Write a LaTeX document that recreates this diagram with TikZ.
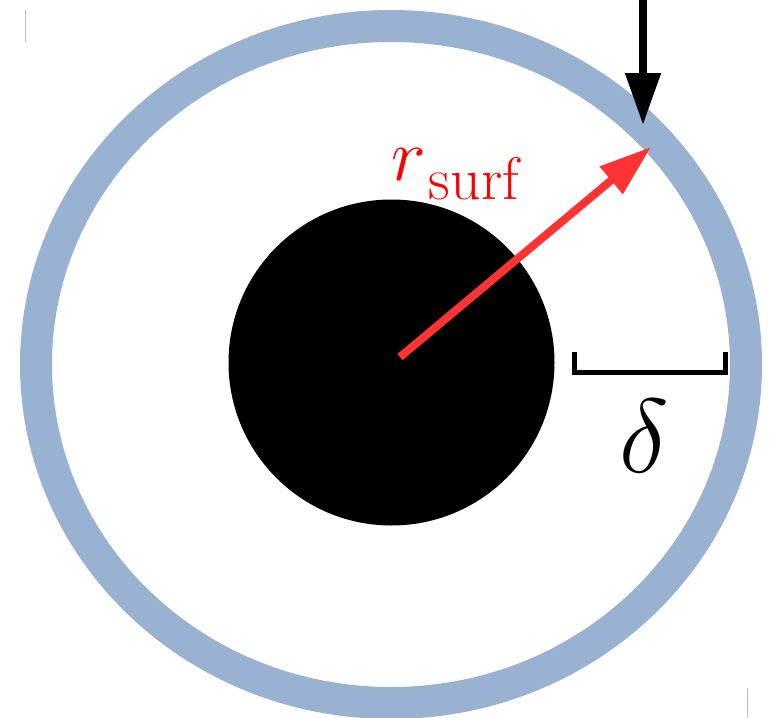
\RequirePackage{fix-cm}
\documentclass[tikz,border=0pt]{standalone}
\usetikzlibrary{arrows.meta}
\definecolor{ringblue}{RGB}{154,178,209}
\definecolor{arrred}{RGB}{255,51,51}
\newcommand{\subtxt}[1]{\raisebox{-19pt}{\fontsize{60}{60}\selectfont #1}}
\tikzset{
  ring/.style={draw=ringblue, line width=32pt},
  bigarrow/.style={line width=8pt, -{Triangle[length=52pt,width=34pt]}},
  bracketline/.style={draw=black, line width=5pt},
  artifact/.style={draw=ringblue!80, line width=1pt},
}
\begin{document}
\begin{tikzpicture}[x=1pt,y=-1pt]
\useasboundingbox (0,0) rectangle (772,718);
% outer ring
\coordinate (c) at (391,364.5);
\draw[ring] (c) ellipse [x radius=355, y radius=338.5];
% central disk
\node[circle, fill=black, inner sep=0pt, minimum size=326pt] (disk) at (391.5,362.5) {};
% red radius arrow
\coordinate (rstart) at (400,357);
\coordinate (rtip) at (651,147);
\draw[bigarrow, arrred] (rstart) -- (rtip);
\node[text=red, anchor=base west, font=\fontsize{74}{80}\selectfont, inner sep=0pt] (rlabel) at (391,180) {$r$\hspace{3pt}\subtxt{surf}};
% black arrow
\coordinate (btop) at (643,-5);
\coordinate (btip) at (643,125);
\draw[bigarrow, black] (btop) -- (btip);
% bracket delta
\coordinate (b1) at (574.5,352);
\coordinate (b2) at (574.5,372.5);
\coordinate (b3) at (725.5,372.5);
\coordinate (b4) at (725.5,352);
\draw[bracketline] (b1) -- (b2) -- (b3) -- (b4);
\node[font=\fontsize{105}{110}\selectfont, inner sep=0pt] (dlabel) at (644,436) {$\delta$};
% small artifacts
\coordinate (a1) at (25,10);
\coordinate (a2) at (25,42);
\draw[artifact] (a1) -- (a2);
\coordinate (a3) at (747,688);
\coordinate (a4) at (747,718);
\draw[artifact] (a3) -- (a4);
\end{tikzpicture}
\end{document}
